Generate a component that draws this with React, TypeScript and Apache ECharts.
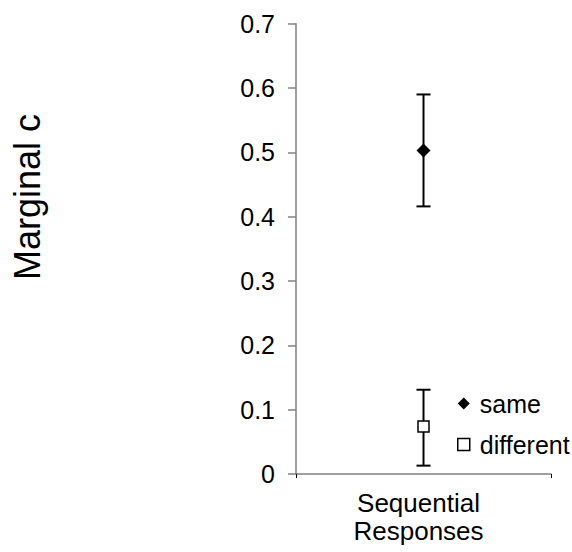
import React, { useEffect, useRef } from "react";
import * as echarts from "echarts";

const categories = ["Sequential\nResponses"];
const seriesNames = ["same", "different"];
const sameMean = [0.503];
const sameLow = [0.416];
const sameHigh = [0.59];
const diffMean = [0.074];
const diffLow = [0.013];
const diffHigh = [0.131];
const yTicks = [0, 0.1, 0.2, 0.3, 0.4, 0.5, 0.6, 0.7];

const FONT = "'Liberation Sans', Arial, sans-serif";

export default function App() {
  const ref = useRef<HTMLDivElement>(null);
  useEffect(() => {
    if (!ref.current) return;
    const chart = echarts.init(ref.current, undefined, { renderer: "svg" });
    const errData = [
      ...categories.map((_, i) => [i, sameLow[i], sameHigh[i]]),
      ...categories.map((_, i) => [i, diffLow[i], diffHigh[i]]),
    ];
    chart.setOption({
      animation: false,
      backgroundColor: "#ffffff",
      textStyle: { fontFamily: FONT },
      grid: { left: 296, right: 21, top: 23.7, bottom: 78, containLabel: false },
      graphic: [
        {
          type: "text",
          x: 27,
          y: 197,
          rotation: Math.PI / 2,
          style: {
            text: "Marginal c",
            fontSize: 36,
            fontFamily: FONT,
            fill: "#000",
            align: "center",
            verticalAlign: "middle",
          },
        },
      ],
      legend: {
        orient: "vertical",
        left: 457,
        top: 391,
        padding: 0,
        itemWidth: 12,
        itemHeight: 12,
        itemGap: 16,
        textStyle: { fontSize: 25, color: "#000", fontFamily: FONT, padding: [0, 0, 0, 5] },
        data: [
          { name: seriesNames[0], icon: "diamond" },
          { name: seriesNames[1], icon: "rect", itemStyle: { borderWidth: 1.5 } },
        ],
      },
      xAxis: {
        type: "category",
        data: categories,
        boundaryGap: true,
        axisLine: { lineStyle: { color: "#808080", width: 1.5 } },
        axisTick: { show: true, length: 4, inside: false, lineStyle: { color: "#000" } },
        axisLabel: {
          fontSize: 26,
          color: "#000",
          lineHeight: 28,
          margin: 15,
          fontFamily: FONT,
          padding: [0, 10, 0, 0],
        },
        splitLine: { show: false },
      },
      yAxis: {
        type: "value",
        min: 0,
        max: 0.7,
        interval: 0.1,
        axisLine: { show: true, lineStyle: { color: "#808080", width: 1.5 } },
        axisTick: { show: true, length: 8, lineStyle: { color: "#808080", width: 1.5 } },
        axisLabel: {
          fontSize: 25,
          color: "#000",
          margin: 21,
          fontFamily: FONT,
          formatter: (v: number) => {
            const t = yTicks.find((x) => Math.abs(x - v) < 1e-9);
            return t === 0 ? "0" : String(Math.round((t ?? v) * 10) / 10);
          },
        },
        splitLine: { show: false },
      },
      series: [
        {
          type: "custom",
          name: "err",
          z: 1,
          data: errData,
          renderItem: (params: any, api: any) => {
            const x = api.value(0);
            const lo = api.coord([x, api.value(1)]);
            const hi = api.coord([x, api.value(2)]);
            const hw = 7;
            const style = { stroke: "#000", lineWidth: 2 };
            return {
              type: "group",
              children: [
                { type: "line", shape: { x1: lo[0], y1: lo[1], x2: hi[0], y2: hi[1] }, style },
                { type: "line", shape: { x1: lo[0] - hw, y1: lo[1], x2: lo[0] + hw, y2: lo[1] }, style },
                { type: "line", shape: { x1: hi[0] - hw, y1: hi[1], x2: hi[0] + hw, y2: hi[1] }, style },
              ],
            };
          },
        },
        {
          type: "scatter",
          name: seriesNames[0],
          z: 3,
          symbol: "diamond",
          symbolSize: 14,
          itemStyle: { color: "#000", opacity: 1 },
          data: categories.map((c, i) => [i, sameMean[i]]),
        },
        {
          type: "scatter",
          name: seriesNames[1],
          z: 3,
          symbol: "rect",
          symbolSize: 11,
          itemStyle: { color: "#fff", borderColor: "#000", borderWidth: 1.5, opacity: 1 },
          data: categories.map((c, i) => [i, diffMean[i]]),
        },
      ],
    });
    return () => chart.dispose();
  }, []);
  return (
    <div
      ref={ref}
      style={{ width: 572, height: 552, position: "fixed", left: 0, top: 0 }}
    />
  );
}
